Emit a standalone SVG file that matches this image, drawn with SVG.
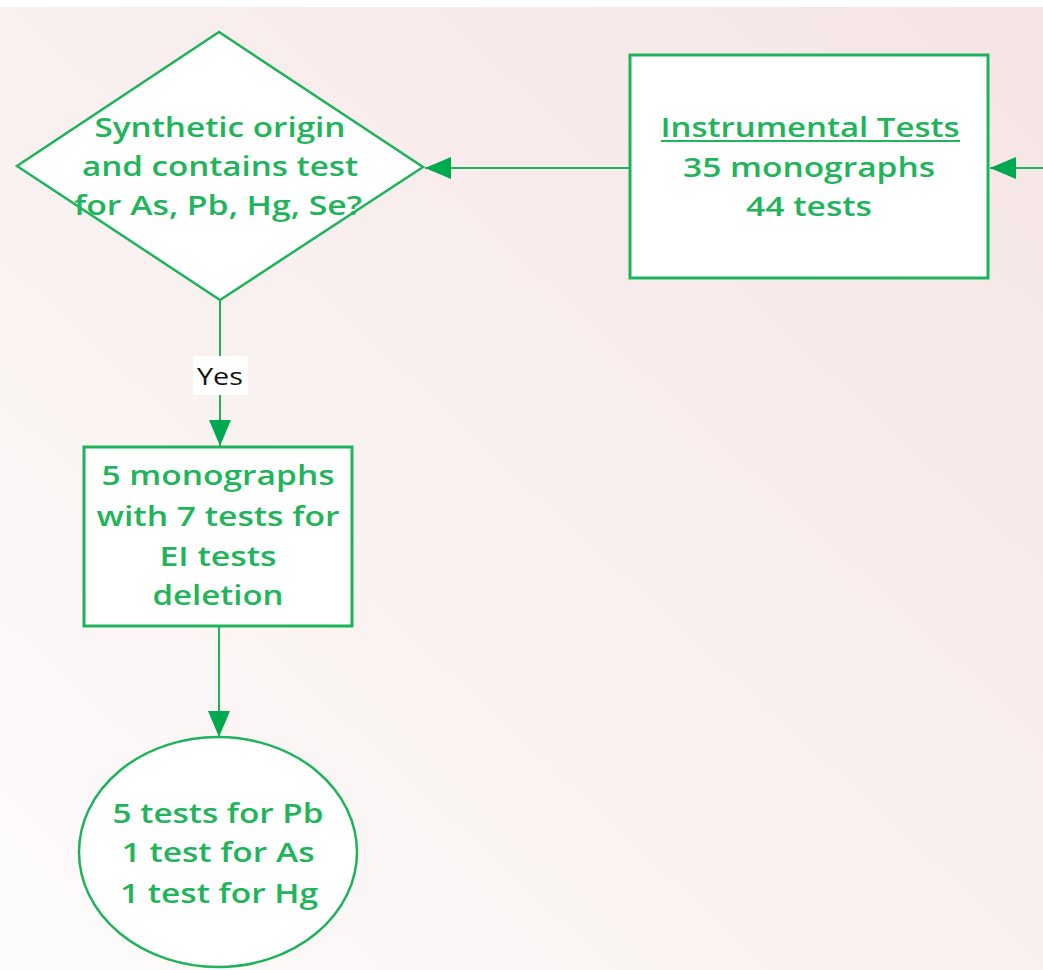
<svg xmlns="http://www.w3.org/2000/svg" width="1043" height="970" viewBox="0 0 1043 970">
  <defs>
    <linearGradient id="bg" x1="0" y1="1" x2="1" y2="0">
      <stop offset="0" stop-color="#fdfcfb"/>
      <stop offset="0.35" stop-color="#faf3f2"/>
      <stop offset="1" stop-color="#f5e5e4"/>
    </linearGradient>
    <marker id="arrow" viewBox="0 0 26 22" refX="26" refY="11" markerWidth="26" markerHeight="22" markerUnits="userSpaceOnUse" orient="auto">
      <path d="M0,0 L26,11 L0,22 Z" fill="#00a94f"/>
    </marker>
    <style>
      .shape { fill: #ffffff; stroke: #1db35a; stroke-width: 2.5; }
      .box { stroke-width: 3; }
      .lbl { font-family: "Open Sans", "Noto Sans", sans-serif; font-size: 27px; font-weight: 600; fill: #21b45b; text-anchor: middle; }
      .edge { stroke: #1db35a; stroke-width: 2; fill: none; marker-end: url(#arrow); }
      .yes { font-family: "Open Sans", "Noto Sans", sans-serif; font-size: 24px; fill: #111111; text-anchor: middle; }
    </style>
  </defs>

  <rect x="0" y="0" width="1043" height="970" fill="#ffffff"/>
  <rect x="0" y="7" width="1043" height="963" fill="url(#bg)"/>

  <g id="connectors">
    <line class="edge" x1="1043" y1="168" x2="990" y2="168"/>
    <line class="edge" x1="630" y1="168" x2="425" y2="168"/>
    <line class="edge" x1="220" y1="300" x2="220" y2="446"/>
    <line class="edge" x1="219" y1="626" x2="219" y2="737"/>
    <rect x="193" y="356" width="55" height="39" fill="#ffffff"/>
    <text class="yes" x="220" y="385" textLength="46" lengthAdjust="spacingAndGlyphs">Yes</text>
  </g>

  <g id="decision">
    <polygon class="shape" points="219,32 423,167 220,300 17,166"/>
    <text class="lbl" x="220" y="137" textLength="251" lengthAdjust="spacingAndGlyphs">Synthetic origin</text>
    <text class="lbl" x="220" y="176" textLength="276" lengthAdjust="spacingAndGlyphs">and contains test</text>
    <text class="lbl" x="218" y="215" textLength="288" lengthAdjust="spacingAndGlyphs">for As, Pb, Hg, Se?</text>
  </g>

  <g id="instrumental">
    <rect class="shape box" x="630" y="55" width="358" height="223"/>
    <text class="lbl" x="810" y="137" textLength="299" lengthAdjust="spacingAndGlyphs">Instrumental Tests</text>
    <line x1="661" y1="141" x2="960" y2="141" stroke="#21b45b" stroke-width="2"/>
    <text class="lbl" x="809" y="177" textLength="252" lengthAdjust="spacingAndGlyphs">35 monographs</text>
    <text class="lbl" x="809" y="216" textLength="126" lengthAdjust="spacingAndGlyphs">44 tests</text>
  </g>

  <g id="deletion">
    <rect class="shape box" x="84" y="447" width="268" height="179"/>
    <text class="lbl" x="218" y="485" textLength="233" lengthAdjust="spacingAndGlyphs">5 monographs</text>
    <text class="lbl" x="218" y="526" textLength="243" lengthAdjust="spacingAndGlyphs">with 7 tests for</text>
    <text class="lbl" x="218" y="566" textLength="117" lengthAdjust="spacingAndGlyphs">EI tests</text>
    <text class="lbl" x="218" y="605" textLength="131" lengthAdjust="spacingAndGlyphs">deletion</text>
  </g>

  <g id="result">
    <ellipse class="shape" cx="218" cy="852" rx="139" ry="115"/>
    <text class="lbl" x="218" y="823" textLength="211" lengthAdjust="spacingAndGlyphs">5 tests for Pb</text>
    <text class="lbl" x="218" y="862" textLength="193" lengthAdjust="spacingAndGlyphs">1 test for As</text>
    <text class="lbl" x="219" y="903" textLength="198" lengthAdjust="spacingAndGlyphs">1 test for Hg</text>
  </g>
</svg>
